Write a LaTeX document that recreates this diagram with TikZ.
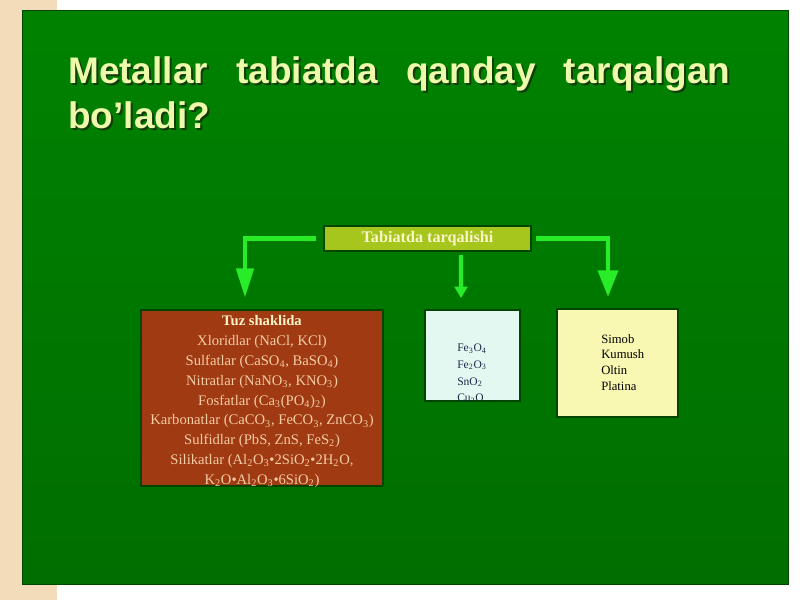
\documentclass[tikz,border=0pt]{standalone}
\usepackage{fontspec}
\setmainfont{Liberation Serif}
\newfontfamily\titlefont{Liberation Sans}
\usetikzlibrary{positioning, arrows.meta, calc}

\definecolor{panelgreen}{RGB}{0,130,0}
\definecolor{paneldark}{RGB}{0,110,0}
\definecolor{beige}{RGB}{242,220,186}
\definecolor{titleyellow}{RGB}{236,250,170}
\definecolor{titleshadow}{RGB}{20,60,10}
\definecolor{arrowgreen}{RGB}{40,236,40}
\definecolor{headfill}{RGB}{166,198,30}
\definecolor{headtext}{RGB}{250,244,200}
\definecolor{saltfill}{RGB}{160,58,18}
\definecolor{salttext}{RGB}{244,204,164}
\definecolor{oxidefill}{RGB}{228,248,242}
\definecolor{oxidetext}{RGB}{30,40,70}
\definecolor{nativefill}{RGB}{248,248,178}
\definecolor{boxedge}{RGB}{0,70,0}

\newcommand{\chemsub}[1]{\textsubscript{#1}}

\begin{document}
\begin{tikzpicture}[
            x=0.025cm, y=-0.025cm,
            box/.style={rectangle, draw=boxedge, line width=1.2pt, inner sep=0pt, outer sep=0pt},
            title/.style={inner sep=0pt, font=\titlefont\bfseries\fontsize{26.3}{30}\selectfont},
            flow/.style={draw=arrowgreen, line width=3.5pt, -{Triangle[width=12pt,length=21pt]}}
        ]
        \useasboundingbox (0,0) rectangle (800,600);
        % slide background and green panel
        \fill[white] (0,0) rectangle (800,600);
        \fill[beige] (0,0) rectangle (57,600);
        \shade[top color=panelgreen, bottom color=paneldark] (22,10) rectangle (788,584);
        \draw[boxedge, line width=0.6pt] (22,10) rectangle (788,584);

        % Title with its shadow
        \node[title, anchor=base west, text=titleshadow] (title1shadow) at (70,85)
            {\makebox[470.9pt][s]{Metallar\hfill tabiatda\hfill qanday\hfill tarqalgan}};
        \node[title, anchor=base west, text=titleshadow] (title2shadow) at (70,130) {bo’ladi?};
        \node[title, anchor=base west, text=titleyellow] (title1) at (68,83)
            {\makebox[470.9pt][s]{Metallar\hfill tabiatda\hfill qanday\hfill tarqalgan}};
        \node[title, anchor=base west, text=titleyellow] (title2) at (68,128) {bo’ladi?};

        % Define the boxes
        \node[box, fill=headfill, minimum width=5.175cm, minimum height=0.625cm,
              text=headtext, font=\bfseries\fontsize{11.5}{13}\selectfont] (main) at (427.5,238.5) {Tabiatda tarqalishi};
        \node[box, fill=saltfill, minimum width=6.05cm, minimum height=4.4cm] (tuz) at (262,398) {};
        \node[box, fill=oxidefill, minimum width=2.375cm, minimum height=2.275cm] (oksid) at (472.5,355.5) {};
        \node[box, fill=nativefill, minimum width=3.025cm, minimum height=2.7cm] (metall) at (617.5,363) {};

        % texts of the boxes
        \node[inner sep=0pt, text=salttext, align=center,
              font=\fontsize{10.4}{14.15}\selectfont] (tuzlist) at (262,401.5)
            {\textcolor{headtext}{\bfseries Tuz shaklida}\\
             Xloridlar (NaCl, KCl)\\
             Sulfatlar (CaSO\chemsub{4}, BaSO\chemsub{4})\\
             Nitratlar (NaNO\chemsub{3}, KNO\chemsub{3})\\
             Fosfatlar (Ca\chemsub{3}(PO\chemsub{4})\chemsub{2})\\
             Karbonatlar (CaCO\chemsub{3}, FeCO\chemsub{3}, ZnCO\chemsub{3})\\
             Sulfidlar (PbS, ZnS, FeS\chemsub{2})\\
             Silikatlar (Al\chemsub{2}O\chemsub{3}•2SiO\chemsub{2}•2H\chemsub{2}O,\\
             K\chemsub{2}O•Al\chemsub{2}O\chemsub{3}•6SiO\chemsub{2})};
        \begin{scope}
            \clip ($(oksid.south west)+(1,-1)$) rectangle ($(oksid.north east)+(-1,1)$);
            \node[inner sep=0pt, anchor=west, align=left, text=oxidetext,
                  font=\fontsize{8.2}{11.9}\selectfont] (oksidlist) at (457,373.75)
                {Fe\chemsub{3}O\chemsub{4}\\ Fe\chemsub{2}O\chemsub{3}\\ SnO\chemsub{2}\\ Cu\chemsub{2}O};
        \end{scope}
        \node[inner sep=0pt, anchor=west, align=left, text=black,
              font=\fontsize{9}{11.2}\selectfont] (metalllist) at (601,362.5)
            {Simob\\ Kumush\\ Oltin\\ Platina};

        % Draw the arrows
        \draw[flow] ($(main.west)+(-8,0)$) -| ($(tuz.north)+(-17,-12)$);
        \draw[flow, line width=3pt, -{Triangle[width=9pt,length=8pt]}] ($(main.south)+(33.5,4)$) -- ($(oksid.north)+(-11.5,-12)$);
        \draw[flow, -{Triangle[width=14pt,length=19pt]}] ($(main.east)+(5,0)$) -| ($(metall.north)+(-9.5,-12)$);
    \end{tikzpicture}
\end{document}
